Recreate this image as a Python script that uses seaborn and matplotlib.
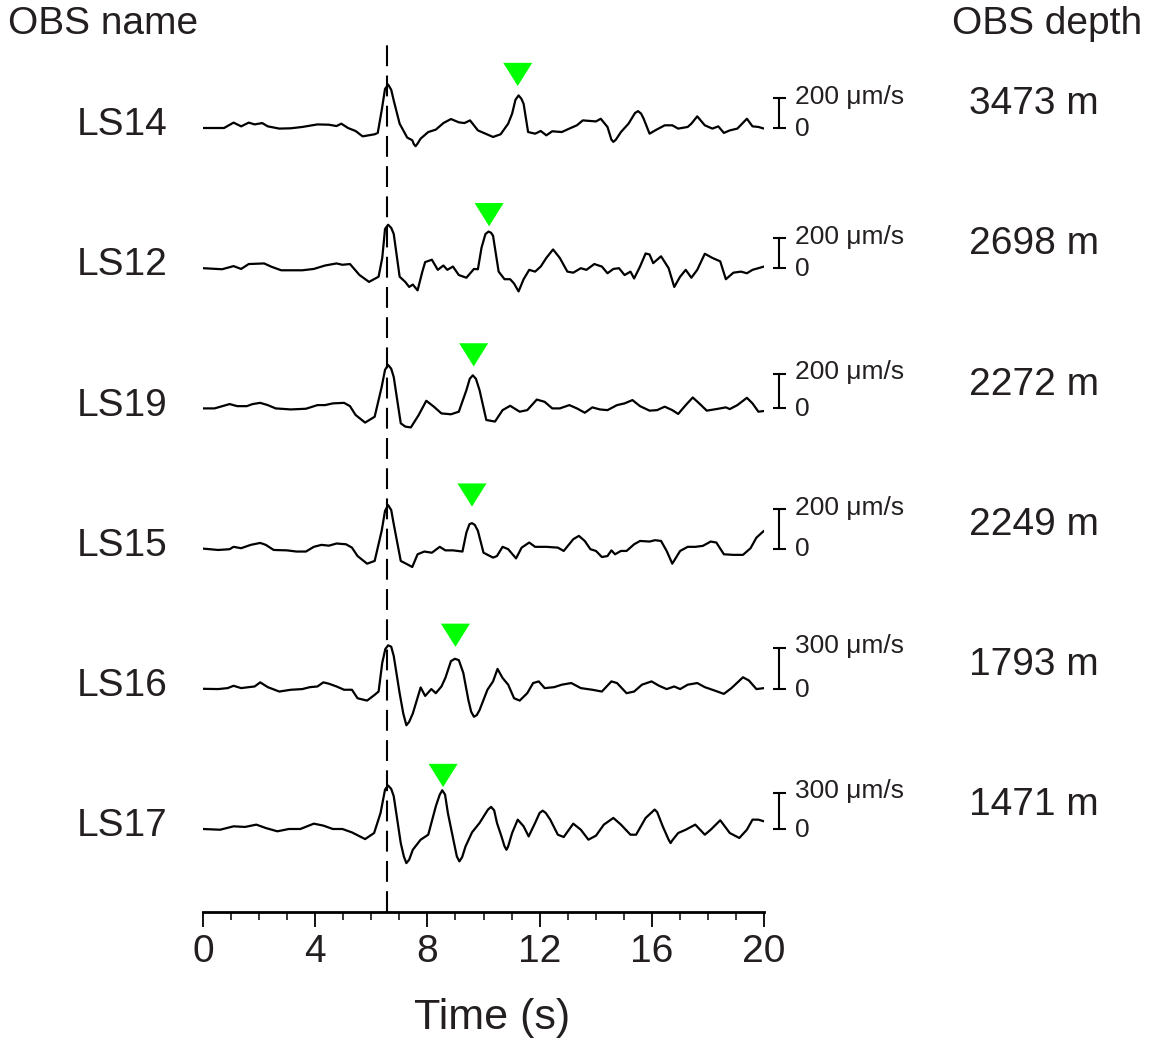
import numpy as np
import pandas as pd
import matplotlib
matplotlib.use("Agg")
import matplotlib.pyplot as plt
import seaborn as sns

sns.set_theme(style="white")
plt.rcParams['font.family'] = ['Liberation Sans', 'DejaVu Sans']

TXT = '#231f20'

# ---------------- data ----------------
stations = ["LS14", "LS12", "LS19", "LS15", "LS16", "LS17"]
depths = ["3473 m", "2698 m", "2272 m", "2249 m", "1793 m", "1471 m"]
scale_values = [200, 200, 200, 200, 300, 300]          # scale bar, um/s
arrival_marks = [11.22, 10.20, 9.65, 9.59, 9.00, 8.56]  # green triangles (s)
reference_time = 6.56                                   # dashed line (s)

# (time s, velocity um/s)
ls14 = [(0.00,0),(0.75,0),(1.09,36),(1.36,11),(1.63,36),(1.84,24),(2.11,33),(2.31,11),(2.72,-4),(3.13,-2),(3.54,7),(4.08,24),(4.49,22),(4.76,13),(4.93,29),(5.17,0),(5.44,-20),(5.69,-56),(6.12,-42),(6.23,-33),(6.37,118),(6.49,262),(6.60,291),(6.71,256),(6.80,184),(7.01,29),(7.28,-64),(7.46,-82),(7.52,-109),(7.58,-122),(7.65,-104),(7.76,-71),(8.03,-27),(8.30,-11),(8.57,33),(8.84,60),(9.12,38),(9.32,33),(9.52,51),(9.80,-16),(10.07,-38),(10.34,-60),(10.61,-42),(10.88,29),(11.02,96),(11.14,189),(11.25,218),(11.35,196),(11.43,162),(11.59,-27),(11.84,-38),(12.04,-20),(12.24,-49),(12.45,-22),(12.79,-27),(13.06,-4),(13.33,18),(13.54,51),(13.81,47),(14.01,44),(14.18,62),(14.42,7),(14.56,-78),(14.63,-93),(14.72,-78),(14.90,-27),(15.17,29),(15.40,100),(15.51,113),(15.62,96),(15.71,62),(15.92,-38),(16.12,-16),(16.46,18),(16.73,18),(16.94,-4),(17.28,7),(17.41,29),(17.62,78),(17.89,18),(18.16,-4),(18.37,11),(18.57,-33),(18.78,-16),(19.05,-4),(19.39,62),(19.59,11),(19.80,7),(20.00,-4)]
ls12 = [(0.00,0),(0.68,-7),(1.09,14),(1.36,-5),(1.63,28),(2.18,32),(2.45,9),(2.79,-14),(3.54,-14),(3.95,-5),(4.35,18),(4.76,32),(4.97,23),(5.24,28),(5.58,-46),(5.92,-92),(6.26,-57),(6.39,69),(6.49,264),(6.60,292),(6.71,271),(6.80,230),(7.01,-57),(7.21,-92),(7.35,-126),(7.48,-110),(7.65,-149),(7.82,-23),(7.92,41),(8.16,57),(8.37,-11),(8.57,18),(8.71,-11),(8.91,11),(9.12,-46),(9.39,-64),(9.66,-5),(9.80,-7),(9.93,138),(10.07,230),(10.18,246),(10.27,238),(10.34,218),(10.54,-23),(10.75,-74),(10.95,-74),(11.09,-103),(11.25,-156),(11.43,-74),(11.63,-11),(11.84,-23),(12.04,11),(12.24,69),(12.48,126),(12.72,69),(12.99,-23),(13.20,-30),(13.47,0),(13.67,-11),(13.95,28),(14.22,11),(14.42,-34),(14.63,-5),(14.83,0),(15.03,-46),(15.24,-23),(15.37,-69),(15.58,11),(15.78,99),(15.92,92),(16.05,34),(16.33,80),(16.60,0),(16.80,-126),(17.01,-57),(17.21,-11),(17.41,-64),(17.62,-11),(17.89,97),(18.16,69),(18.44,46),(18.64,-74),(18.91,-30),(19.18,-23),(19.39,-34),(19.59,-11),(20.00,11)]
ls19 = [(0.00,0),(0.41,0),(0.95,25),(1.22,13),(1.56,13),(1.77,25),(2.04,32),(2.31,19),(2.59,0),(3.13,-6),(3.67,-2),(4.08,19),(4.35,19),(4.63,29),(5.03,32),(5.24,13),(5.44,-38),(5.78,-82),(6.12,-48),(6.37,124),(6.49,223),(6.60,251),(6.71,229),(6.80,181),(7.05,-86),(7.21,-105),(7.41,-110),(7.69,-38),(7.96,44),(8.23,10),(8.50,-29),(8.84,-34),(9.12,-19),(9.39,105),(9.51,171),(9.62,191),(9.73,171),(9.86,105),(10.10,-67),(10.41,-76),(10.68,-10),(10.95,15),(11.29,-19),(11.56,-10),(11.90,51),(12.18,38),(12.45,0),(12.72,0),(13.06,19),(13.33,0),(13.61,-25),(13.88,6),(14.15,-6),(14.42,-10),(14.76,19),(15.03,29),(15.31,48),(15.58,13),(15.92,-13),(16.19,-10),(16.46,10),(16.73,-10),(16.94,-32),(17.21,19),(17.46,63),(17.69,29),(17.96,-13),(18.37,-2),(18.64,6),(18.78,-4),(19.05,19),(19.39,61),(19.59,29),(19.80,-19),(20.00,-15)]
ls15 = [(0.00,0),(0.54,-7),(0.95,-3),(1.09,9),(1.36,2),(1.70,19),(2.04,29),(2.24,19),(2.52,-7),(2.99,-9),(3.33,-15),(3.67,-15),(3.95,9),(4.22,19),(4.49,15),(4.76,26),(5.10,22),(5.31,5),(5.51,-38),(5.85,-77),(6.12,-63),(6.37,91),(6.49,193),(6.60,222),(6.71,197),(6.80,125),(7.05,-63),(7.28,-80),(7.46,-94),(7.65,-29),(7.89,-15),(8.16,-21),(8.44,9),(8.64,-9),(8.91,-9),(9.25,-15),(9.39,82),(9.50,125),(9.59,130),(9.69,121),(9.80,91),(10.00,-21),(10.34,-46),(10.48,-38),(10.68,9),(10.88,-3),(11.16,-50),(11.36,5),(11.63,31),(11.84,9),(12.24,9),(12.65,5),(12.86,-12),(13.20,48),(13.40,65),(13.61,39),(13.81,-3),(14.01,-12),(14.22,-43),(14.42,-38),(14.56,-9),(14.69,-29),(14.90,-12),(15.10,-12),(15.37,22),(15.58,39),(15.92,36),(16.12,43),(16.33,39),(16.53,-12),(16.73,-77),(17.01,-12),(17.28,9),(17.55,9),(17.82,14),(18.10,36),(18.30,31),(18.57,-29),(18.91,-32),(19.25,-32),(19.52,2),(19.73,56),(20.00,91)]
ls16 = [(0.00,0),(0.54,-2),(0.88,5),(1.09,22),(1.36,5),(1.63,12),(1.84,17),(2.04,47),(2.31,12),(2.72,-20),(3.13,-7),(3.54,-2),(3.81,12),(4.08,17),(4.29,47),(4.49,37),(4.76,17),(5.03,-7),(5.31,-7),(5.51,-69),(5.85,-86),(6.12,-44),(6.26,-20),(6.39,189),(6.50,290),(6.60,317),(6.71,307),(6.80,239),(7.01,-32),(7.14,-180),(7.25,-266),(7.35,-241),(7.48,-180),(7.76,10),(7.92,-52),(8.14,-2),(8.30,-32),(8.50,17),(8.64,79),(8.84,202),(8.98,219),(9.12,209),(9.28,116),(9.46,-81),(9.56,-167),(9.66,-204),(9.76,-192),(9.86,-155),(10.14,-7),(10.34,54),(10.50,145),(10.68,79),(10.88,30),(11.09,-69),(11.29,-86),(11.56,-32),(11.77,42),(11.97,54),(12.18,5),(12.52,12),(12.79,30),(13.13,42),(13.47,5),(13.88,-7),(14.22,-20),(14.56,54),(14.76,42),(15.10,-32),(15.37,-20),(15.65,30),(15.99,54),(16.26,22),(16.53,-2),(16.80,17),(17.01,-2),(17.28,30),(17.62,42),(17.89,12),(18.23,-12),(18.57,-37),(18.84,5),(19.25,84),(19.46,61),(19.73,-2),(20.00,5)]
ls17 = [(0.00,0),(0.61,-6),(1.09,22),(1.50,17),(1.90,36),(2.24,8),(2.65,-19),(3.06,0),(3.47,0),(3.95,44),(4.29,28),(4.63,0),(4.97,0),(5.31,-28),(5.78,-83),(6.10,-33),(6.33,132),(6.49,325),(6.60,358),(6.71,330),(6.80,270),(7.05,-116),(7.16,-226),(7.25,-281),(7.35,-253),(7.48,-171),(7.76,-88),(8.03,-47),(8.30,187),(8.44,283),(8.53,319),(8.63,283),(8.73,132),(8.95,-116),(9.05,-226),(9.14,-267),(9.24,-231),(9.36,-143),(9.59,-28),(9.86,50),(10.16,160),(10.27,182),(10.38,154),(10.48,50),(10.64,-61),(10.75,-143),(10.82,-171),(10.88,-143),(11.02,-33),(11.22,77),(11.43,22),(11.61,-61),(11.84,50),(12.00,132),(12.11,151),(12.22,132),(12.38,77),(12.65,-47),(12.86,-66),(13.20,44),(13.47,-6),(13.74,-88),(14.01,-55),(14.29,36),(14.63,91),(14.90,36),(15.24,-47),(15.44,-47),(15.78,91),(16.00,138),(16.10,160),(16.19,140),(16.39,22),(16.60,-88),(16.67,-116),(16.73,-94),(16.94,-33),(17.21,-6),(17.55,36),(17.89,-47),(18.10,-6),(18.44,72),(18.78,-33),(19.12,-74),(19.39,-6),(19.59,77),(19.80,77),(20.00,63)]

traces = [ls14, ls12, ls19, ls15, ls16, ls17]

# long table for seaborn (each trace normalised to its own peak)
frames = []
peaks = []
for i, (st, tr) in enumerate(zip(stations, traces)):
    arr = np.asarray(tr, float)
    peak = np.abs(arr[:, 1]).max()
    peaks.append(peak)
    offset = len(stations) - 1 - i
    frames.append(pd.DataFrame({"time": arr[:, 0], "y": offset + arr[:, 1] / peak * 0.31,
                                "station": st}))
df = pd.concat(frames, ignore_index=True)

# ---------------- figure ----------------
W, H = 1153, 1040
fig = plt.figure(figsize=(W / 100, H / 100), dpi=100)
ax_bottom_px, ax_top_px = 912, 20
ax = fig.add_axes([203 / W, (H - ax_bottom_px) / H, 561 / W, (ax_bottom_px - ax_top_px) / H])
ax.patch.set_alpha(0)
unit = 140.2
ymin = -(ax_bottom_px - 829) / unit
ymax = (829 - ax_top_px) / unit
ax.set_xlim(0, 20)
ax.set_ylim(ymin, ymax)

sns.lineplot(data=df, x="time", y="y", units="station", estimator=None,
             sort=False, color="black", lw=1.6, ax=ax, legend=False,
             solid_joinstyle="round")

# reference dashed line
ax.plot([reference_time, reference_time], [ymin, (829 - 38) / unit],
        color="black", lw=1.5, dashes=(10, 4.5), zorder=1, clip_on=False)

# triangles, scale bars, labels
tri = [(-1, 0.8), (1, 0.8), (0, -0.8), (-1, 0.8)]
for i, st in enumerate(stations):
    off = len(stations) - 1 - i
    ax.scatter([arrival_marks[i]], [off + 0.382], marker=tri, s=20.9 ** 2,
               color="#00ff00", edgecolor="none", zorder=5, clip_on=False)
    hb = scale_values[i] / peaks[i] * 0.31
    xb = 20.55
    ax.plot([xb, xb], [off, off + hb], color="black", lw=1.5, clip_on=False)
    for yy in (off, off + hb):
        ax.plot([xb - 0.22, xb + 0.22], [yy, yy], color="black", lw=1.5,
                clip_on=False, solid_capstyle="butt")
    ax.text(21.1, off + hb + 0.01, f"{scale_values[i]} \u03bcm/s", fontsize=19,
            color=TXT, ha="left", va="center", clip_on=False)
    ax.text(21.1, off - 0.005, "0", fontsize=19, color=TXT, ha="left",
            va="center", clip_on=False)
    ax.text(-1.25, off + 0.02, st, fontsize=28, color=TXT, ha="right",
            va="center", clip_on=False)
    ax.text(29.63, off + 0.17, depths[i], fontsize=28, color=TXT, ha="center",
            va="center", clip_on=False)

fig.text(8 / W, 1 - 24 / H, "OBS name", fontsize=28, color=TXT, ha="left", va="center")
fig.text(1142 / W, 1 - 24 / H, "OBS depth", fontsize=28, color=TXT, ha="right", va="center")

# axes styling
for s in ["left", "right", "top"]:
    ax.spines[s].set_visible(False)
ax.spines["bottom"].set_linewidth(2)
ax.spines["bottom"].set_color("black")
ax.set_yticks([])
ax.set_xticks(np.arange(0, 21, 4))
ax.set_xticks(np.arange(0, 21, 1), minor=True)
ax.tick_params(axis="x", which="major", direction="out", length=11, width=1.3,
               colors="black", labelsize=28, labelcolor=TXT, pad=5, bottom=True)
ax.tick_params(axis="x", which="minor", direction="out", length=6, width=1.1,
               colors="black", bottom=True)
ax.set_xlabel("")
ax.set_ylabel("")
fig.text(492 / W, 1 - 1018 / H, "Time (s)", fontsize=31, color=TXT, ha="center", va="center")

fig.savefig("out.png", dpi=100)
